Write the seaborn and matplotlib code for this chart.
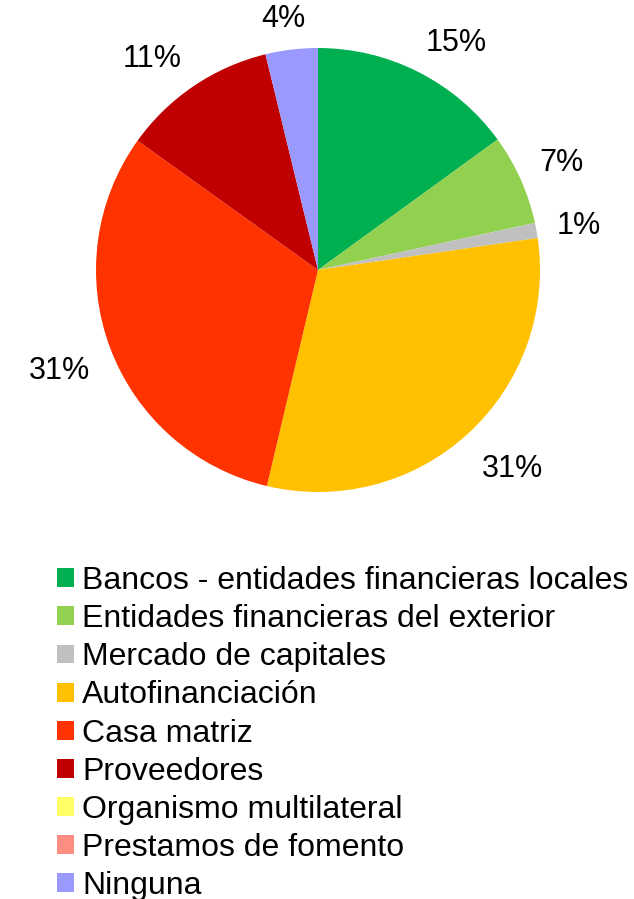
import matplotlib
matplotlib.use("Agg")
import matplotlib.pyplot as plt
import numpy as np
import seaborn as sns

sns.set_theme(style="white")
plt.rcParams['font.family'] = ['Liberation Sans', 'DejaVu Sans']
plt.rcParams['text.color'] = 'black'

categorias = [
    "Bancos - entidades financieras locales",
    "Entidades financieras del exterior",
    "Mercado de capitales",
    "Autofinanciación",
    "Casa matriz",
    "Proveedores",
    "Organismo multilateral",
    "Prestamos de fomento",
    "Ninguna",
]
valores = [15.0, 6.6, 1.1, 31.0, 31.2, 11.3, 0.0, 0.0, 3.8]
colores = ["#00B050", "#92D050", "#C0C0C0", "#FFC000", "#FF3300",
           "#C00000", "#FFFF66", "#FF8C80", "#9999FF"]

palette = sns.color_palette(colores)

fig = plt.figure(figsize=(6.34, 8.99), dpi=100)
W, H = 634, 899
cx, cy, r = 318, 270, 222
ax = fig.add_axes([(cx - r) / W, (H - cy - r) / H, 2 * r / W, 2 * r / H])


def etiqueta(p):
    return f"{p:.0f}%" if p > 0.05 else ""


wedges, _, autotexts = ax.pie(
    valores, colors=palette, startangle=90, counterclock=False,
    autopct=etiqueta, pctdistance=1.1, radius=1,
    textprops=dict(fontsize=22, color="black"),
    wedgeprops=dict(linewidth=0),
)
ax.set_xlim(-1, 1)
ax.set_ylim(-1, 1)
ax.set_aspect("equal")
ax.axis("off")

# labels just outside the arc, box touching the radial point (Excel style)
fig.canvas.draw()
renderer = fig.canvas.get_renderer()
gap = 1 + 21 / r
for w, t in zip(wedges, autotexts):
    if not t.get_text():
        continue
    ang = np.deg2rad((w.theta1 + w.theta2) / 2)
    c, s = np.cos(ang), np.sin(ang)
    bb = t.get_window_extent(renderer)
    hw, hh = bb.width / 2 / r, bb.height / 2 / r
    fx = np.sign(c) * min(1, abs(c) * 2)
    fy = np.sign(s) * min(1, abs(s) * 2)
    t.set_position((gap * c + hw * fx, gap * s + hh * fy - 5 / r))
    t.set_ha("center")
    t.set_va("center")

leg = fig.legend(
    wedges, categorias, loc="upper left",
    bbox_to_anchor=(57 / W, 1 - 566 / H), frameon=False,
    fontsize=23, handlelength=0.53, handleheight=0.53,
    handletextpad=0.25, labelspacing=0.255, borderpad=0, borderaxespad=0,
)

fig.savefig("out.png", dpi=100)
